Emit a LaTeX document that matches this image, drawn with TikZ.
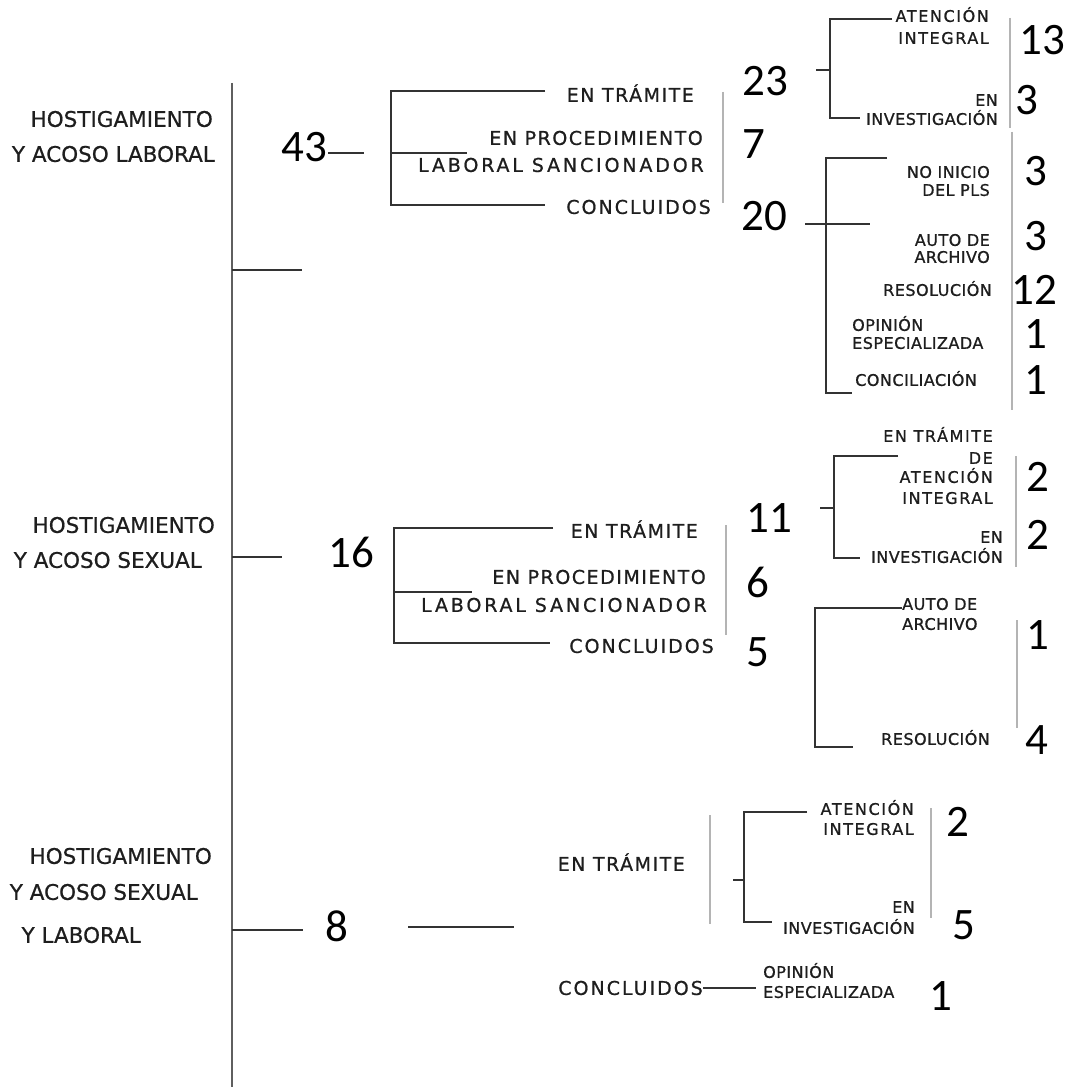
\documentclass[tikz,border=0pt]{standalone}
\usepackage{fontspec}
\setmainfont[FakeBold=0.7]{DejaVu Sans}
\newfontfamily\bigfont[FakeBold=0.7]{DejaVu Sans}
\newfontfamily\numfont{Carlito}
\newfontfamily\midA[LetterSpace=8,FakeBold=0.8]{DejaVu Sans}
\newfontfamily\midB[LetterSpace=10.5,FakeBold=0.8]{DejaVu Sans}
\newfontfamily\midC[LetterSpace=15,FakeBold=0.8]{DejaVu Sans}
\newfontfamily\smA[LetterSpace=3,FakeBold=0.9]{DejaVu Sans}
\newfontfamily\smB[LetterSpace=10,FakeBold=0.9]{DejaVu Sans}
\definecolor{txt}{HTML}{1E1E1E}
\definecolor{brk}{HTML}{333333}
\definecolor{mainc}{HTML}{5F5F5F}
\definecolor{guidec}{HTML}{B4B4B4}
\begin{document}
\begin{tikzpicture}[x=1pt,y=-1pt,
  lab/.style={inner sep=0pt,text depth=0pt,text=txt},
  big/.style={lab,font=\bigfont\fontsize{21.5}{24}\selectfont,text height=15.7pt},
  mida/.style={lab,font=\midA\fontsize{19}{21}\selectfont,text height=13.8pt},
  midb/.style={lab,font=\midB\fontsize{19}{21}\selectfont,text height=13.8pt},
  midc/.style={lab,font=\midC\fontsize{19}{21}\selectfont,text height=13.8pt},
  sma/.style={lab,font=\smA\fontsize{16}{18}\selectfont,text height=11.7pt},
  smb/.style={lab,font=\smB\fontsize{16}{18}\selectfont,text height=11.7pt},
  num/.style={inner sep=0pt,text depth=0pt,text height=28.5pt,text=black,font=\numfont\fontsize{45}{50}\selectfont},
  mainline/.style={draw=mainc,line width=2.2pt},
  bline/.style={draw=brk,line width=1.3pt},
  gline/.style={draw=guidec,line width=1.1pt}]
\useasboundingbox[fill=white] (0,0) rectangle (1068,1089);

% ---------------- main axis ----------------
\coordinate (mtop) at (232,83);
\coordinate (mbot) at (232,1087);
\draw[mainline] (mtop) -- (mbot);
\coordinate (t1) at (302,270);
\coordinate (t2) at (282,557);
\coordinate (t3) at (303,930);
\draw[bline] (mtop |- t1) -- (t1);
\draw[bline] (mtop |- t2) -- (t2);
\draw[bline] (mtop |- t3) -- (t3);

% ---------------- section 1 ----------------
\node[big,anchor=east] (h1a) at (213,119) {HOSTIGAMIENTO};
\node[big,anchor=east] (h1b) at (215,154) {Y ACOSO LABORAL};
\node[num] (n43) at (304,147) {43};
\coordinate (l43a) at (328,153);
\coordinate (l43b) at (364,153);
\draw[bline] (l43a) -- (l43b);

\draw[bline] (545,91) coordinate (b1a) -- (391,91) coordinate (b1b)
  -- (391,205) coordinate (b1c) -- (545,205) coordinate (b1d);
\draw[bline] (392,153) coordinate (b1m) -- (467,153) coordinate (b1n);
\node[mida,anchor=east] (et1) at (694,95) {EN TRÁMITE};
\node[mida,anchor=east] (ep1) at (703,138) {EN PROCEDIMIENTO};
\node[midc,anchor=east] (ls1) at (704,165) {LABORAL SANCIONADOR};
\node[midb,anchor=east] (cc1) at (711,207) {CONCLUIDOS};
\draw[gline] (723,92) coordinate (g1a) -- (723,203) coordinate (g1b);
\node[num] (n23) at (765,81) {23};
\node[num] (n7) at (754,144) {7};
\node[num] (n20) at (764,216) {20};

% sub-bracket 23
\draw[bline] (892,19) coordinate (s1a) -- (830,19) coordinate (s1b)
  -- (830,118) coordinate (s1c) -- (860,118) coordinate (s1d);
\draw[bline] (816,70) coordinate (s1t) -- (s1b |- s1t);
\node[smb,anchor=east] (ai1a) at (989,16) {ATENCIÓN};
\node[smb,anchor=east] (ai1b) at (989,38) {INTEGRAL};
\node[sma,anchor=east] (in1a) at (998,100) {EN};
\node[sma,anchor=east] (in1b) at (998,119) {INVESTIGACIÓN};
\draw[gline] (1010,18) coordinate (g2a) -- (1010,128) coordinate (g2b);
\node[num] (n13) at (1042,40) {13};
\node[num] (n3a) at (1027,100) {3};

% sub-bracket 20
\draw[bline] (887,158) coordinate (s2a) -- (826,158) coordinate (s2b)
  -- (826,393) coordinate (s2c) -- (852,393) coordinate (s2d);
\draw[bline] (805,224) coordinate (s2t) -- (870,224) coordinate (s2u);
\node[sma,anchor=east] (ni1a) at (990,172) {NO INICIO};
\node[sma,anchor=east] (ni1b) at (990,190) {DEL PLS};
\node[sma,anchor=east] (aa1a) at (990,240) {AUTO DE};
\node[sma,anchor=east] (aa1b) at (990,257) {ARCHIVO};
\node[sma,anchor=east] (re1) at (992,290) {RESOLUCIÓN};
\node[sma,anchor=west] (op1a) at (852,325) {OPINIÓN};
\node[sma,anchor=west] (op1b) at (852,343) {ESPECIALIZADA};
\node[sma,anchor=west] (co1) at (855,380) {CONCILIACIÓN};
\draw[gline] (1012,132) coordinate (g3a) -- (1012,410) coordinate (g3b);
\node[num] (n3b) at (1036,171) {3};
\node[num] (n3c) at (1036,236) {3};
\node[num] (n12) at (1034,290) {12};
\node[num] (n1a) at (1036,334) {1};
\node[num] (n1b) at (1036,380) {1};

% ---------------- section 2 ----------------
\node[big,anchor=east] (h2a) at (215,525) {HOSTIGAMIENTO};
\node[big,anchor=east] (h2b) at (202,560) {Y ACOSO SEXUAL};
\node[num] (n16) at (351,553) {16};
\draw[bline] (553,528) coordinate (b2a) -- (394,528) coordinate (b2b)
  -- (394,643) coordinate (b2c) -- (550,643) coordinate (b2d);
\draw[bline] (395,592) coordinate (b2m) -- (472,592) coordinate (b2n);
\node[mida,anchor=east] (et2) at (698,531) {EN TRÁMITE};
\node[mida,anchor=east] (ep2) at (706,577) {EN PROCEDIMIENTO};
\node[midc,anchor=east] (ls2) at (707,605) {LABORAL SANCIONADOR};
\node[midb,anchor=east] (cc2) at (714,646) {CONCLUIDOS};
\draw[gline] (726,525) coordinate (g4a) -- (726,635) coordinate (g4b);
\node[num] (n11) at (769,518) {11};
\node[num] (n6) at (758,583) {6};
\node[num] (n5) at (758,652) {5};

% sub-bracket 11
\draw[bline] (898,456) coordinate (s3a) -- (834,456) coordinate (s3b)
  -- (834,558) coordinate (s3c) -- (860,558) coordinate (s3d);
\draw[bline] (820,508) coordinate (s3t) -- (s3b |- s3t);
\node[smb,anchor=east] (s2ta) at (993,436) {EN TRÁMITE};
\node[smb,anchor=east] (s2tb) at (993,458) {DE};
\node[smb,anchor=east] (s2tc) at (993,477) {ATENCIÓN};
\node[smb,anchor=east] (s2td) at (993,498) {INTEGRAL};
\node[sma,anchor=east] (in2a) at (1003,537) {EN};
\node[sma,anchor=east] (in2b) at (1003,557) {INVESTIGACIÓN};
\draw[gline] (1016,456) coordinate (g5a) -- (1016,567) coordinate (g5b);
\node[num] (n2a) at (1038,477) {2};
\node[num] (n2b) at (1038,535) {2};

% sub-bracket 5
\draw[bline] (902,608) coordinate (s4a) -- (815,608) coordinate (s4b)
  -- (815,747) coordinate (s4c) -- (853,747) coordinate (s4d);
\node[sma,anchor=west] (aa2a) at (902,604) {AUTO DE};
\node[sma,anchor=west] (aa2b) at (902,624) {ARCHIVO};
\node[sma,anchor=east] (re2) at (990,739) {RESOLUCIÓN};
\draw[gline] (1017,620) coordinate (g6a) -- (1017,728) coordinate (g6b);
\node[num] (n1c) at (1038,635) {1};
\node[num] (n4) at (1037,740) {4};

% ---------------- section 3 ----------------
\node[big,anchor=east] (h3a) at (212,856) {HOSTIGAMIENTO};
\node[big,anchor=east] (h3b) at (198,892) {Y ACOSO SEXUAL};
\node[big,anchor=east] (h3c) at (141,935) {Y LABORAL};
\node[num] (n8) at (337,927) {8};
\draw[bline] (408,927) coordinate (l8a) -- (514,927) coordinate (l8b);
\node[mida,anchor=east] (et3) at (685,864) {EN TRÁMITE};
\draw[gline] (710,815) coordinate (g7a) -- (710,924) coordinate (g7b);
\draw[bline] (807,812) coordinate (s5a) -- (744,812) coordinate (s5b)
  -- (744,922) coordinate (s5c) -- (772,922) coordinate (s5d);
\draw[bline] (733,880) coordinate (s5t) -- (s5b |- s5t);
\node[smb,anchor=east] (ai3a) at (914,809) {ATENCIÓN};
\node[smb,anchor=east] (ai3b) at (914,829) {INTEGRAL};
\node[sma,anchor=east] (in3a) at (915,907) {EN};
\node[sma,anchor=east] (in3b) at (915,928) {INVESTIGACIÓN};
\draw[gline] (931,808) coordinate (g8a) -- (931,918) coordinate (g8b);
\node[num] (n2c) at (958,822) {2};
\node[num] (n5b) at (964,925) {5};
\node[midb,anchor=east] (cc3) at (703,988) {CONCLUIDOS};
\node[sma,anchor=west] (op3a) at (763,972) {OPINIÓN};
\node[sma,anchor=west] (op3b) at (763,992) {ESPECIALIZADA};
\coordinate (l3b) at (756,988);
\draw[bline] (cc3.east) -- (l3b);
\node[num] (n1d) at (941,996) {1};
\end{tikzpicture}
\end{document}
